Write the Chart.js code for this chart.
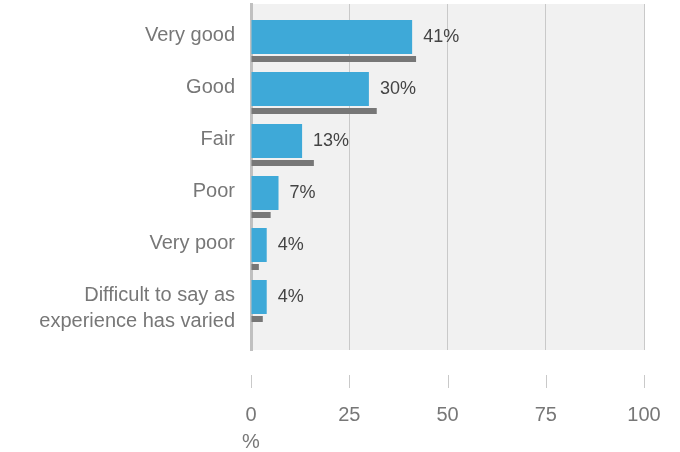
<!DOCTYPE html>
<html>
<head>
<meta charset="utf-8">
<script src="https://cdn.jsdelivr.net/npm/chart.js@4"></script>
<style>
  html, body { margin: 0; padding: 0; background: #fff; }
  #wrap { width: 680px; height: 452px; }
</style>
</head>
<body>
<div id="wrap"><canvas id="ratingChart"></canvas></div>
<script>
// ── data ────────────────────────────────────────────────────────────────
const categories = ['Very good', 'Good', 'Fair', 'Poor', 'Very poor', ['Difficult to say as', 'experience has varied']];
const currentValues = [41, 30, 13, 7, 4, 4];
const compareValues = [42, 32, 16, 5, 2, 3];
const xTicks = [0, 25, 50, 75, 100];

const FONT = "'Liberation Sans', Helvetica, Arial, sans-serif";

// grey plot background
const plotBg = {
    id: 'plotBg',
    beforeDraw(chart) {
        const a = chart.chartArea, ctx = chart.ctx;
        ctx.save();
        ctx.fillStyle = '#f1f1f1';
        ctx.fillRect(a.left, a.top, a.right - a.left, a.bottom - a.top);
        ctx.restore();
    }
};

// value labels, detached tick marks, unit label
const extras = {
    id: 'extras',
    afterDraw(chart) {
        const ctx = chart.ctx, a = chart.chartArea, x = chart.scales.x;
        ctx.save();
        // value labels on blue bars
        ctx.font = '18px ' + FONT;
        ctx.fillStyle = '#444';
        ctx.textAlign = 'left';
        ctx.textBaseline = 'middle';
        chart.getDatasetMeta(0).data.forEach((bar, i) => {
            ctx.fillText(currentValues[i] + '%', bar.x + 11, bar.y);
        });
        // tick marks below the plot
        ctx.strokeStyle = '#c9c9c9';
        ctx.lineWidth = 1;
        xTicks.forEach(v => {
            const px = Math.round(x.getPixelForValue(v)) + 0.5;
            ctx.beginPath();
            ctx.moveTo(px, a.bottom + 25);
            ctx.lineTo(px, a.bottom + 38);
            ctx.stroke();
        });
        // unit
        ctx.font = '20px ' + FONT;
        ctx.fillStyle = '#777';
        ctx.textAlign = 'center';
        ctx.fillText('%', x.getPixelForValue(0), a.bottom + 92);
        ctx.restore();
    }
};

new Chart(document.getElementById('ratingChart'), {
    type: 'bar',
    data: {
        datasets: [
            {
                label: 'This survey',
                data: currentValues.map((v, i) => ({ x: v, y: i })),
                backgroundColor: '#3ea9d8',
                categoryPercentage: 0.846,
                barPercentage: 1.545,
            },
            {
                label: 'Comparison',
                data: compareValues.map((v, i) => ({ x: v, y: i })),
                backgroundColor: '#777777',
                categoryPercentage: 0.846,
                barPercentage: 0.273,
            }
        ]
    },
    options: {
        indexAxis: 'y',
        responsive: true,
        maintainAspectRatio: false,
        animation: false,
        layout: { padding: { top: 4, right: 36, left: 0, bottom: 0 } },
        plugins: { legend: { display: false }, tooltip: { enabled: false } },
        scales: {
            x: {
                type: 'linear',
                min: 0, max: 100,
                afterBuildTicks: s => { s.ticks = xTicks.map(v => ({ value: v })); },
                afterFit: s => { s.height = 102; s.paddingLeft = 0; s.paddingRight = 0; },
                grid: {
                    color: c => c.tick && c.tick.value === 0 ? 'rgba(0,0,0,0)' : '#c9c9c9',
                    lineWidth: 1,
                    drawTicks: false
                },
                border: { display: false },
                ticks: { color: '#777', padding: 53, font: { family: FONT, size: 20 } }
            },
            y: {
                type: 'linear',
                reverse: true,
                offset: false,
                min: -0.846, max: 5.808,
                afterBuildTicks: s => {
                    s.ticks = categories.map((c, i) => ({ value: Array.isArray(c) ? i : i - 0.25 }));
                },
                afterFit: s => { s.width = 251; s.paddingTop = 0; s.paddingBottom = 0; },
                grid: { drawOnChartArea: false, drawTicks: false, offset: false },
                border: { display: true, color: '#c0c0c0', width: 3 },
                ticks: {
                    color: '#777',
                    padding: 16,
                    autoSkip: false,
                    font: { family: FONT, size: 20, lineHeight: 1.3 },
                    callback: (v, i) => categories[i]
                }
            }
        }
    },
    plugins: [plotBg, extras]
});
</script>
</body>
</html>
